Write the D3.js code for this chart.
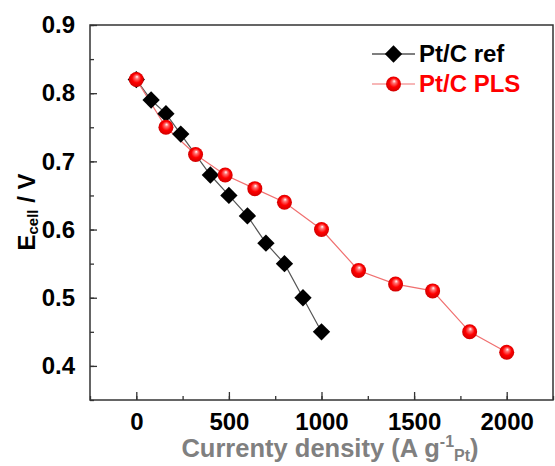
<!DOCTYPE html>
<html>
<head>
<meta charset="utf-8">
<script src="https://cdn.jsdelivr.net/npm/d3@7"></script>
<style>
  body { margin: 0; background: #fff; }
  svg text { font-family: "Liberation Sans", Arial, sans-serif; font-weight: bold; }
</style>
</head>
<body>
<div id="chart"></div>
<script>
// data
const refCurrent = [0, 80, 160, 240, 400, 500, 600, 700, 800, 900, 1000];
const refVoltage = [0.82, 0.79, 0.77, 0.74, 0.68, 0.65, 0.62, 0.58, 0.55, 0.50, 0.45];
const plsCurrent = [0, 160, 320, 480, 640, 800, 1000, 1200, 1400, 1600, 1800, 2000];
const plsVoltage = [0.82, 0.75, 0.71, 0.68, 0.66, 0.64, 0.60, 0.54, 0.52, 0.51, 0.45, 0.42];
const xTicks = [0, 500, 1000, 1500, 2000];
const yTicks = [0.4, 0.5, 0.6, 0.7, 0.8, 0.9];
const seriesNames = ["Pt/C ref", "Pt/C PLS"];

const WIDTH = 555;
const HEIGHT = 466;
const MARGIN = { left: 90, right: 2, top: 25, bottom: 66 };

const svg = d3.select("#chart").append("svg")
    .attr("width", WIDTH)
    .attr("height", HEIGHT);

const defs = svg.append("defs");
const grad = defs.append("radialGradient")
    .attr("id", "sphere")
    .attr("cx", "0.5").attr("cy", "0.5").attr("r", "0.55")
    .attr("fx", "0.55").attr("fy", "0.3");
grad.append("stop").attr("offset", "0%").attr("stop-color", "#ffffff");
grad.append("stop").attr("offset", "22%").attr("stop-color", "#ff7070");
grad.append("stop").attr("offset", "55%").attr("stop-color", "#ff0000");
grad.append("stop").attr("offset", "100%").attr("stop-color", "#c80000");

const x = d3.scaleLinear()
    .domain([-250, 2250])
    .range([MARGIN.left, WIDTH - MARGIN.right]);

const y = d3.scaleLinear()
    .domain([0.35, 0.9])
    .range([HEIGHT - MARGIN.bottom, MARGIN.top]);

const plotH = HEIGHT - MARGIN.bottom - MARGIN.top;

// minor ticks
svg.append("g")
   .attr("transform", `translate(0, ${HEIGHT - MARGIN.bottom})`)
   .call(d3.axisBottom(x).tickValues(d3.range(-250, 2251, 250)).tickSizeInner(-4).tickSizeOuter(0).tickFormat(""))
   .call(g => g.select(".domain").remove())
   .selectAll("line").attr("stroke", "#333").attr("stroke-width", 1.3);

svg.append("g")
   .attr("transform", `translate(${MARGIN.left}, 0)`)
   .call(d3.axisLeft(y).tickValues(d3.range(0.35, 0.901, 0.05)).tickSizeInner(-4).tickSizeOuter(0).tickFormat(""))
   .call(g => g.select(".domain").remove())
   .selectAll("line").attr("stroke", "#333").attr("stroke-width", 1.3);

// major axes
const xAxis = svg.append("g")
    .attr("transform", `translate(0, ${HEIGHT - MARGIN.bottom})`)
    .call(d3.axisBottom(x).tickValues(xTicks).tickFormat(d3.format("d")).tickSizeInner(-8).tickSizeOuter(0).tickPadding(13));
xAxis.select(".domain").remove();
xAxis.selectAll("line").attr("stroke", "#333").attr("stroke-width", 1.3);
xAxis.selectAll("text").attr("font-size", 24).attr("fill", "#000")
     .attr("font-family", "Liberation Sans, Arial, sans-serif");

const yAxis = svg.append("g")
    .attr("transform", `translate(${MARGIN.left}, 0)`)
    .call(d3.axisLeft(y).tickValues(yTicks).tickFormat(d3.format(".1f")).tickSizeInner(-7).tickSizeOuter(0).tickPadding(15));
yAxis.select(".domain").remove();
yAxis.selectAll("line").attr("stroke", "#333").attr("stroke-width", 1.3);
yAxis.selectAll("text").attr("font-size", 24).attr("fill", "#000")
     .attr("font-family", "Liberation Sans, Arial, sans-serif");

// frame
svg.append("rect")
   .attr("x", MARGIN.left)
   .attr("y", MARGIN.top)
   .attr("width", WIDTH - MARGIN.right - MARGIN.left)
   .attr("height", plotH)
   .attr("fill", "none")
   .attr("stroke", "#333")
   .attr("stroke-width", 1.5);

// axis titles
const xt = svg.append("text")
    .attr("x", 330)
    .attr("y", 457)
    .attr("text-anchor", "middle")
    .attr("font-size", 25.5)
    .attr("fill", "#808080");
xt.append("tspan").text("Currenty density (A g");
xt.append("tspan").attr("font-size", 16).attr("dy", -10).text("-1");
xt.append("tspan").attr("font-size", 16).attr("dy", 14).text("Pt");
xt.append("tspan").attr("dy", -4).text(")");

const yt = svg.append("text")
    .attr("transform", "translate(35, 212) rotate(-90)")
    .attr("text-anchor", "middle")
    .attr("font-size", 24)
    .attr("fill", "#000");
yt.append("tspan").text("E");
yt.append("tspan").attr("font-size", 15).attr("dy", 3).text("cell");
yt.append("tspan").attr("dy", -3).text(" / V");

// lines
const refData = refCurrent.map((c, i) => ({ c: c, v: refVoltage[i] }));
const plsData = plsCurrent.map((c, i) => ({ c: c, v: plsVoltage[i] }));

const line = d3.line()
    .x(d => x(d.c))
    .y(d => y(d.v));

svg.append("path")
   .datum(refData)
   .attr("d", line)
   .attr("fill", "none")
   .attr("stroke", "#555")
   .attr("stroke-width", 1.2);

svg.append("path")
   .datum(plsData)
   .attr("d", line)
   .attr("fill", "none")
   .attr("stroke", "#f07070")
   .attr("stroke-width", 1.2);

const diamond = d3.symbol().type(d3.symbolSquare).size(150);

svg.selectAll(".refPoint")
   .data(refData)
   .enter()
   .append("path")
   .attr("class", "refPoint")
   .attr("d", diamond)
   .attr("transform", d => `translate(${x(d.c)}, ${y(d.v)}) rotate(45)`)
   .attr("fill", "#000");

svg.selectAll(".plsPoint")
   .data(plsData)
   .enter()
   .append("circle")
   .attr("class", "plsPoint")
   .attr("cx", d => x(d.c))
   .attr("cy", d => y(d.v))
   .attr("r", 7.5)
   .attr("fill", "url(#sphere)");

// legend
const legend = svg.append("g");
legend.append("line")
      .attr("x1", 372).attr("x2", 415).attr("y1", 54).attr("y2", 54)
      .attr("stroke", "#000").attr("stroke-width", 1.2);
legend.append("path")
      .attr("d", diamond)
      .attr("transform", "translate(393.5, 54) rotate(45)")
      .attr("fill", "#000");
legend.append("text")
      .attr("x", 419).attr("y", 62)
      .attr("font-size", 24)
      .attr("fill", "#000")
      .text(seriesNames[0]);

legend.append("line")
      .attr("x1", 372).attr("x2", 415).attr("y1", 84).attr("y2", 84)
      .attr("stroke", "#f07070").attr("stroke-width", 1.2);
legend.append("circle")
      .attr("cx", 393.5).attr("cy", 84).attr("r", 7.5)
      .attr("fill", "url(#sphere)");
legend.append("text")
      .attr("x", 419).attr("y", 92)
      .attr("font-size", 24)
      .attr("fill", "#ff0000")
      .text(seriesNames[1]);
</script>
</body>
</html>
